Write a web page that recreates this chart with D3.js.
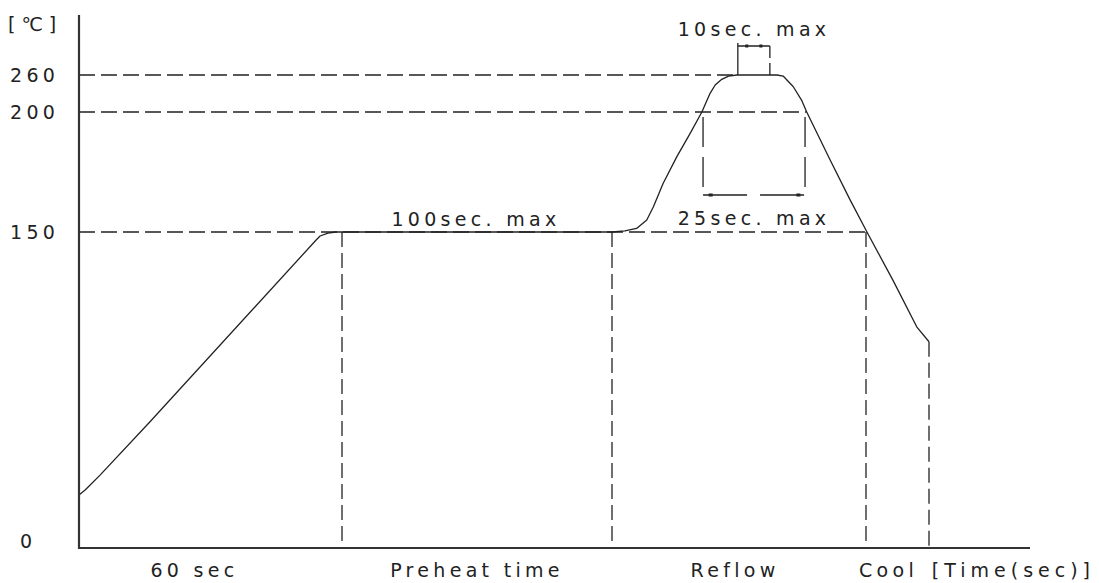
<!DOCTYPE html>
<html>
<head>
<meta charset="utf-8">
<script src="https://cdn.jsdelivr.net/npm/d3@7"></script>
<style>
  html, body { margin: 0; padding: 0; background: #fff; }
  svg text { font-family: "DejaVu Sans", sans-serif; fill: #222; letter-spacing: 4.3px; }
</style>
</head>
<body>
<svg id="chart" width="1099" height="583"></svg>
<script>
// reflow profile, schematic (time axis is not to scale)
var tempTicks = [0, 150, 200, 260];
var phaseEnds = [0, 60, 160, 225, 245];          // sec
var phaseLabels = ["60 sec", "Preheat time", "Reflow", "Cool"];
var timeMax = 277;

var profileTime = [0, 1.4, 4.8, 16.2, 54.1, 55, 56.8, 58.6, 60, 160, 163.3, 166.3, 168.9, 170.6, 173.1, 176.6, 180, 183,
  185.1, 186.4, 188.1, 189.8, 192, 202.2, 203.8, 206.4, 208.5, 209.8, 215.7, 220.9, 225.3, 233.7, 241.1, 245];
var profileTemp = [25.2, 27.5, 34.6, 59.9, 146.2, 148.1, 149.5, 150, 150, 150, 150.5, 151.5, 155, 160.5, 170.3, 181.4, 191.1, 200,
  230.3, 243.8, 253, 258.3, 260, 260, 258.3, 241, 219.4, 200.5, 180.4, 163.5, 150, 126.7, 105, 97.9];

var peakWindow = [192.2, 200.4];    // 10sec. max
var above200Window = [183.3, 209.4]; // 25sec. max
var holdLabels = ["100sec. max", "25sec. max", "10sec. max"];

var svg = d3.select("#chart");

var x = d3.scaleLinear()
  .domain([0, 60, 160, 225, 245, timeMax])
  .range([79, 342, 612, 866, 929, 1030]);
var y = d3.scaleLinear()
  .domain([0, 150, 200, 260])
  .range([548, 232, 112, 75]);

var ink = "#222";
var dash = "16,6";

// guide lines
var hGuides = [[260, 192], [200, 209.8], [150, 225.3]];
svg.selectAll(".hguide").data(hGuides).enter().append("line")
  .attr("x1", x(0)).attr("x2", function(d) { return x(d[1]); })
  .attr("y1", function(d) { return y(d[0]); }).attr("y2", function(d) { return y(d[0]); })
  .attr("stroke", ink).attr("stroke-width", 1.3).attr("stroke-dasharray", dash);

var vGuides = [[60, 150], [160, 150], [225, 150], [245, 97.9]];
svg.selectAll(".vguide").data(vGuides).enter().append("line")
  .attr("x1", function(d) { return x(d[0]); }).attr("x2", function(d) { return x(d[0]); })
  .attr("y1", function(d) { return y(d[1]); }).attr("y2", y(0))
  .attr("stroke", ink).attr("stroke-width", 1.3).attr("stroke-dasharray", "15,6");

// 25 sec window box
var boxY = y(200) + 83;
svg.selectAll(".w25").data(above200Window).enter().append("line")
  .attr("x1", function(d) { return x(d); }).attr("x2", function(d) { return x(d); })
  .attr("y1", y(200) + 5).attr("y2", boxY)
  .attr("stroke", ink).attr("stroke-width", 1.3).attr("stroke-dasharray", "30,10");
svg.append("line")
  .attr("x1", x(above200Window[0])).attr("x2", x(above200Window[1]))
  .attr("y1", boxY).attr("y2", boxY)
  .attr("stroke", ink).attr("stroke-width", 1.3).attr("stroke-dasharray", "44,13");

// 10 sec window marker
var topY = y(260) - 32;
svg.append("line")
  .attr("x1", x(peakWindow[0])).attr("x2", x(peakWindow[0]))
  .attr("y1", y(260)).attr("y2", topY)
  .attr("stroke", ink).attr("stroke-width", 1.3);
svg.append("line")
  .attr("x1", x(peakWindow[1])).attr("x2", x(peakWindow[1]))
  .attr("y1", y(260)).attr("y2", topY)
  .attr("stroke", ink).attr("stroke-width", 1.3).attr("stroke-dasharray", "12,5");
svg.append("line")
  .attr("x1", x(peakWindow[0])).attr("x2", x(peakWindow[1]))
  .attr("y1", topY + 3).attr("y2", topY + 3)
  .attr("stroke", ink).attr("stroke-width", 1.3);
svg.selectAll(".dot10").data([0.28, 0.72]).enter().append("rect")
  .attr("x", function(d) { return x(peakWindow[0] + d * (peakWindow[1] - peakWindow[0])) - 1.5; })
  .attr("y", topY + 1.5).attr("width", 3).attr("height", 3).attr("fill", ink);
svg.selectAll(".dot25").data([0.07, 0.93]).enter().append("rect")
  .attr("x", function(d) { return x(above200Window[0] + d * (above200Window[1] - above200Window[0])) - 1.5; })
  .attr("y", boxY - 1.5).attr("width", 4).attr("height", 3).attr("fill", ink);

// profile curve
var line = d3.line()
  .x(function(d, i) { return x(profileTime[i]); })
  .y(function(d) { return y(d); });
svg.append("path")
  .datum(profileTemp)
  .attr("d", line)
  .attr("fill", "none").attr("stroke", ink).attr("stroke-width", 1.3)
  .attr("stroke-linejoin", "round");

// axes
svg.append("line").attr("x1", x(0)).attr("x2", x(0)).attr("y1", 15).attr("y2", y(0) + 1)
  .attr("stroke", "#333").attr("stroke-width", 2.2);
svg.append("line").attr("x1", x(0) - 1).attr("x2", x(timeMax)).attr("y1", y(0)).attr("y2", y(0))
  .attr("stroke", "#333").attr("stroke-width", 2.2);

// y tick labels
svg.selectAll(".ytick").data(tempTicks).enter().append("text")
  .attr("x", function(d) { return d === 0 ? 20 : 10; })
  .attr("y", function(d) { return Math.min(y(d), y(0) - 7); })
  .attr("dy", "0.36em")
  .style("font-size", "19px")
  .text(function(d) { return d; });
svg.append("text").attr("x", 8).attr("y", 24).attr("dy", "0.36em")
  .style("font-size", "19px").style("letter-spacing", "6px").text("[℃]");

// phase labels under the time axis
var labelShift = [-16, 0, -4, -9];
svg.selectAll(".phase").data(phaseLabels).enter().append("text")
  .attr("x", function(d, i) { return (x(phaseEnds[i]) + x(phaseEnds[i + 1])) / 2 + labelShift[i]; })
  .attr("y", 577)
  .attr("text-anchor", "middle")
  .style("font-size", "19px")
  .text(function(d) { return d; });
svg.append("text").attr("x", x(timeMax) + 65).attr("y", 577)
  .attr("text-anchor", "end").style("font-size", "19px").style("letter-spacing", "5px").text("[Time(sec)]");

// hold time labels
svg.append("text").attr("x", (x(60) + x(160)) / 2 - 1).attr("y", y(150) - 6)
  .attr("text-anchor", "middle").style("font-size", "19px").text(holdLabels[0]);
svg.append("text").attr("x", (x(above200Window[0]) + x(above200Window[1])) / 2).attr("y", boxY + 30)
  .attr("text-anchor", "middle").style("font-size", "19px").text(holdLabels[1]);
svg.append("text").attr("x", (x(above200Window[0]) + x(above200Window[1])) / 2).attr("y", 36)
  .attr("text-anchor", "middle").style("font-size", "19px").text(holdLabels[2]);
</script>
</body>
</html>
